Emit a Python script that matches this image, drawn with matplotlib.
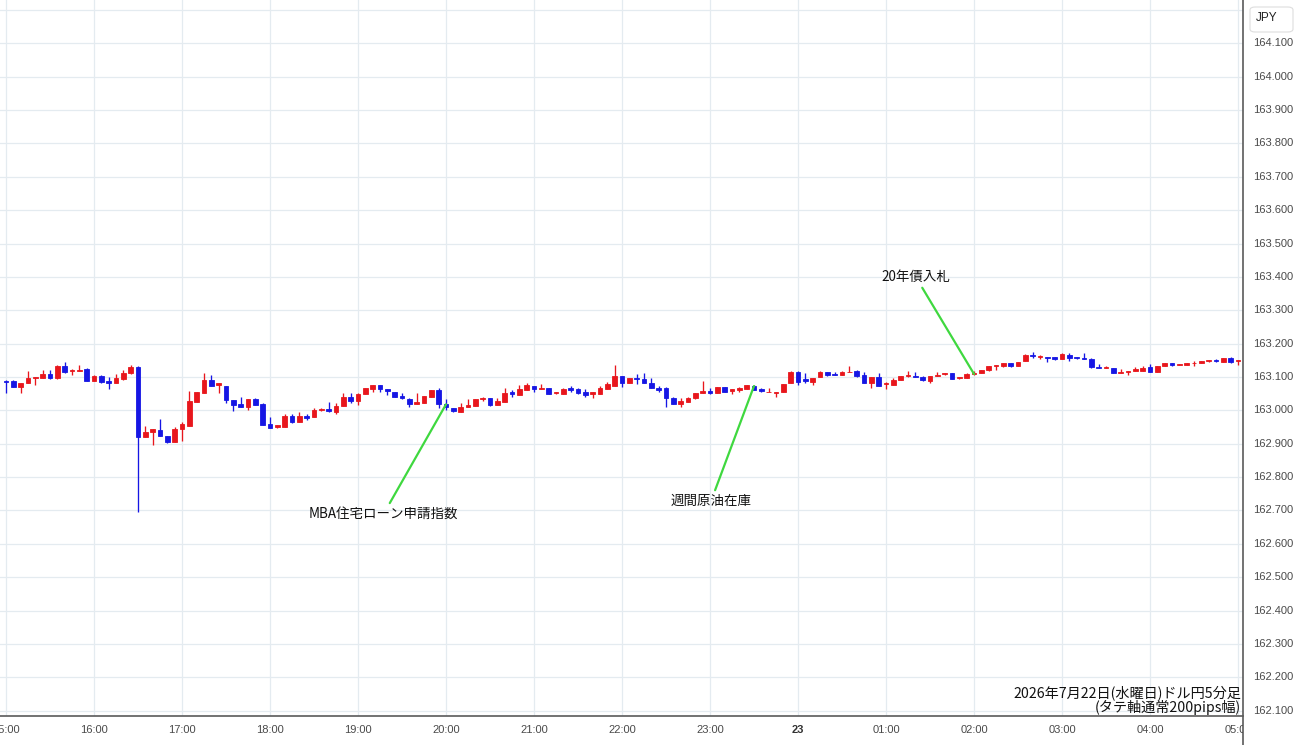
import matplotlib
matplotlib.use("Agg")
import matplotlib.pyplot as plt
from matplotlib.patches import FancyBboxPatch
from matplotlib.transforms import Bbox, TransformedBbox, blended_transform_factory
from matplotlib.lines import Line2D

plt.rcParams['font.family'] = ['Noto Sans CJK JP', 'DejaVu Sans']

# ---------------- data (USD/JPY 5-minute candles, 15:00 -> 05:00) ----------------
opens = [163.089, 163.088, 163.071, 163.081, 163.097, 163.097, 163.109, 163.097, 163.133, 163.117,
         163.119, 163.123, 163.089, 163.103, 163.088, 163.081, 163.094, 163.111, 163.131, 162.919,
         162.935, 162.941, 162.924, 162.906, 162.943, 162.953, 163.026, 163.053, 163.091, 163.077,
         163.074, 163.031, 163.018, 163.011, 163.033, 163.018, 162.959, 162.951, 162.951, 162.983,
         162.966, 162.983, 162.979, 163.001, 163.004, 162.996, 163.014, 163.039, 163.029, 163.048,
         163.063, 163.076, 163.063, 163.056, 163.043, 163.034, 163.019, 163.023, 163.041, 163.061,
         163.018, 163.008, 162.996, 163.011, 163.013, 163.033, 163.038, 163.016, 163.024, 163.054,
         163.046, 163.061, 163.074, 163.064, 163.066, 163.051, 163.049, 163.066, 163.064, 163.054,
         163.048, 163.049, 163.064, 163.074, 163.104, 163.081, 163.096, 163.094, 163.081, 163.068,
         163.066, 163.038, 163.018, 163.026, 163.036, 163.051, 163.058, 163.051, 163.071, 163.058,
         163.062, 163.064, 163.073, 163.064, 163.054, 163.053, 163.054, 163.081, 163.116, 163.093,
         163.086, 163.099, 163.116, 163.108, 163.106, 163.114, 163.119, 163.106, 163.083, 163.099,
         163.079, 163.076, 163.091, 163.103, 163.103, 163.099, 163.089, 163.103, 163.108, 163.111,
         163.096, 163.096, 163.109, 163.111, 163.121, 163.133, 163.133, 163.143, 163.133, 163.147,
         163.166, 163.161, 163.161, 163.159, 163.153, 163.166, 163.159, 163.158, 163.153, 163.131,
         163.127, 163.126, 163.113, 163.115, 163.117, 163.119, 163.129, 163.116, 163.133, 163.141,
         163.136, 163.136, 163.141, 163.143, 163.149, 163.151, 163.146, 163.156, 163.149]
highs = [163.091, 163.090, 163.083, 163.119, 163.101, 163.121, 163.121, 163.137, 163.144, 163.123,
         163.137, 163.127, 163.105, 163.107, 163.101, 163.109, 163.121, 163.136, 163.133, 162.954,
         162.943, 162.973, 162.924, 162.949, 162.966, 163.057, 163.056, 163.111, 163.106, 163.081,
         163.074, 163.031, 163.039, 163.033, 163.036, 163.021, 162.981, 162.956, 162.988, 162.989,
         162.996, 162.989, 163.006, 163.006, 163.026, 163.021, 163.051, 163.051, 163.051, 163.066,
         163.076, 163.076, 163.063, 163.056, 163.053, 163.036, 163.051, 163.043, 163.061, 163.066,
         163.033, 163.008, 163.021, 163.034, 163.034, 163.041, 163.038, 163.036, 163.066, 163.061,
         163.076, 163.081, 163.074, 163.078, 163.066, 163.054, 163.066, 163.074, 163.066, 163.064,
         163.054, 163.074, 163.084, 163.136, 163.104, 163.096, 163.108, 163.111, 163.096, 163.074,
         163.071, 163.041, 163.036, 163.041, 163.051, 163.088, 163.066, 163.071, 163.071, 163.064,
         163.071, 163.076, 163.076, 163.068, 163.066, 163.056, 163.080, 163.119, 163.119, 163.111,
         163.098, 163.119, 163.116, 163.116, 163.119, 163.134, 163.121, 163.116, 163.099, 163.111,
         163.086, 163.096, 163.104, 163.119, 163.116, 163.103, 163.104, 163.116, 163.111, 163.113,
         163.101, 163.111, 163.119, 163.121, 163.133, 163.136, 163.143, 163.143, 163.146, 163.168,
         163.176, 163.166, 163.161, 163.161, 163.171, 163.173, 163.159, 163.171, 163.156, 163.139,
         163.133, 163.126, 163.123, 163.119, 163.129, 163.133, 163.139, 163.133, 163.143, 163.143,
         163.138, 163.143, 163.149, 163.149, 163.151, 163.154, 163.156, 163.159, 163.151]
lows = [163.053, 163.069, 163.053, 163.081, 163.076, 163.097, 163.093, 163.095, 163.113, 163.106,
        163.117, 163.089, 163.089, 163.083, 163.065, 163.081, 163.091, 163.108, 162.694, 162.919,
        162.896, 162.923, 162.901, 162.906, 162.909, 162.953, 163.026, 163.053, 163.074, 163.053,
        163.021, 162.999, 163.009, 163.001, 163.016, 162.956, 162.946, 162.946, 162.951, 162.961,
        162.966, 162.971, 162.979, 162.999, 162.996, 162.989, 163.014, 163.023, 163.016, 163.048,
        163.056, 163.056, 163.046, 163.039, 163.033, 163.011, 163.019, 163.023, 163.041, 163.006,
        163.001, 162.996, 162.996, 163.011, 163.013, 163.029, 163.013, 163.016, 163.024, 163.041,
        163.046, 163.061, 163.054, 163.064, 163.049, 163.048, 163.049, 163.056, 163.049, 163.041,
        163.038, 163.049, 163.064, 163.074, 163.071, 163.081, 163.078, 163.081, 163.066, 163.056,
        163.011, 163.018, 163.011, 163.026, 163.034, 163.051, 163.048, 163.051, 163.054, 163.048,
        163.056, 163.064, 163.061, 163.054, 163.054, 163.041, 163.054, 163.081, 163.076, 163.081,
        163.076, 163.099, 163.104, 163.105, 163.106, 163.114, 163.101, 163.081, 163.068, 163.074,
        163.063, 163.076, 163.091, 163.099, 163.099, 163.089, 163.081, 163.103, 163.106, 163.094,
        163.093, 163.096, 163.106, 163.111, 163.119, 163.121, 163.131, 163.131, 163.133, 163.147,
        163.156, 163.153, 163.146, 163.151, 163.153, 163.149, 163.153, 163.155, 163.126, 163.126,
        163.127, 163.113, 163.113, 163.106, 163.117, 163.119, 163.116, 163.116, 163.133, 163.133,
        163.136, 163.136, 163.133, 163.143, 163.146, 163.146, 163.146, 163.143, 163.136]
closes = [163.085, 163.071, 163.083, 163.097, 163.101, 163.109, 163.097, 163.133, 163.116, 163.120,
          163.121, 163.089, 163.103, 163.086, 163.081, 163.096, 163.113, 163.131, 162.919, 162.936,
          162.943, 162.923, 162.906, 162.944, 162.959, 163.029, 163.054, 163.091, 163.074, 163.081,
          163.031, 163.016, 163.009, 163.033, 163.016, 162.956, 162.946, 162.956, 162.984, 162.966,
          162.983, 162.978, 163.001, 163.004, 162.999, 163.013, 163.039, 163.029, 163.049, 163.066,
          163.076, 163.063, 163.058, 163.041, 163.036, 163.019, 163.026, 163.043, 163.061, 163.018,
          163.011, 162.999, 163.011, 163.016, 163.034, 163.036, 163.016, 163.029, 163.051, 163.048,
          163.063, 163.075, 163.064, 163.068, 163.049, 163.054, 163.064, 163.061, 163.051, 163.046,
          163.054, 163.066, 163.078, 163.104, 163.081, 163.096, 163.093, 163.081, 163.066, 163.061,
          163.036, 163.018, 163.028, 163.038, 163.051, 163.058, 163.051, 163.071, 163.056, 163.064,
          163.066, 163.076, 163.061, 163.058, 163.056, 163.056, 163.080, 163.116, 163.086, 163.089,
          163.098, 163.116, 163.106, 163.105, 163.116, 163.116, 163.104, 163.081, 163.099, 163.074,
          163.083, 163.091, 163.104, 163.106, 163.099, 163.091, 163.104, 163.106, 163.111, 163.094,
          163.101, 163.109, 163.113, 163.121, 163.133, 163.136, 163.143, 163.133, 163.146, 163.165,
          163.163, 163.163, 163.157, 163.153, 163.168, 163.156, 163.156, 163.155, 163.129, 163.128,
          163.129, 163.113, 163.116, 163.119, 163.123, 163.126, 163.116, 163.133, 163.141, 163.136,
          163.138, 163.141, 163.143, 163.149, 163.151, 163.149, 163.156, 163.146, 163.151]

time_labels = ["15:00", "16:00", "17:00", "18:00", "19:00", "20:00", "21:00", "22:00",
               "23:00", "23", "01:00", "02:00", "03:00", "04:00", "05:00"]
candles_per_hour = 12
price_ticks = [162.1, 162.2, 162.3, 162.4, 162.5, 162.6, 162.7, 162.8, 162.9, 163.0, 163.1,
               163.2, 163.3, 163.4, 163.5, 163.6, 163.7, 163.8, 163.9, 164.0, 164.1, 164.2]
price_labels = ["162.100", "162.200", "162.300", "162.400", "162.500", "162.600", "162.700",
                "162.800", "162.900", "163.000", "163.100", "163.200", "163.300", "163.400",
                "163.500", "163.600", "163.700", "163.800", "163.900", "164.000", "164.100", ""]
event_names = ["MBA住宅ローン申請指数", "週間原油在庫", "20年債入札"]
event_candles = [60, 102, 132]
event_offsets_pt = [(-45, -79), (-31, -83), (-42, 70)]

title_lines = "2026年7月22日(水曜日)ドル円5分足\n(タテ軸通常200pips幅)"

UP = '#e8161c'
DOWN = '#1616e4'
GRID = '#e4ebf0'
AXIS = '#5a5a5a'
GREEN = '#3fd83f'

# ---------------- figure ----------------
W, H = 1300, 745
fig = plt.figure(figsize=(W / 100, H / 100), dpi=100)
ax_right_px = 1243
ax_bottom_px = 716
ax = fig.add_axes([0, (H - ax_bottom_px) / H, ax_right_px / W, ax_bottom_px / H])

x_first_px = 6.0
px_per_candle = 88.0 / candles_per_hour
ax.set_xlim(-x_first_px / px_per_candle, (ax_right_px - x_first_px) / px_per_candle)
ax.set_ylim(162.0841, 164.2298)

# grid
hour_pos = [k * candles_per_hour for k in range(len(time_labels))]
for xp in hour_pos:
    ax.axvline(xp, color=GRID, lw=0.9, zorder=0)
for yp in price_ticks:
    ax.axhline(yp, color=GRID, lw=0.9, zorder=0)

# candles
n = len(opens)
idx = list(range(n))
colors = [UP if c >= o else DOWN for o, c in zip(opens, closes)]
ax.vlines(idx, lows, highs, colors=colors, lw=0.95, zorder=2)
bottoms = [min(o, c) for o, c in zip(opens, closes)]
heights = [abs(c - o) for o, c in zip(opens, closes)]
ax.bar(idx, heights, width=0.62, bottom=bottoms, color=colors, edgecolor=colors,
       linewidth=0.6, zorder=3)

# event annotations
for name, ci, off in zip(event_names, event_candles, event_offsets_pt):
    ax.annotate(name, xy=(ci, opens[ci]), xytext=off, textcoords='offset points',
                ha='center', va='center', fontsize=9.7, color='#111111',
                arrowprops=dict(arrowstyle='-', color=GREEN, lw=1.6,
                                shrinkA=1, shrinkB=0), zorder=5)

# spines
for s in ['top', 'left', 'right']:
    ax.spines[s].set_visible(False)
ax.spines['bottom'].set_color(AXIS)
ax.spines['bottom'].set_linewidth(1.2)
ax.set_xticks([])
ax.set_yticks([])

# right price axis line through full height
fig.add_artist(Line2D([ax_right_px / W, ax_right_px / W], [0, 1], transform=fig.transFigure,
                      color=AXIS, lw=1.2))

# price labels
ytrans = blended_transform_factory(fig.transFigure, ax.transData)
for yp, lab in zip(price_ticks, price_labels):
    if lab:
        fig.text(1253 / W, yp, lab, transform=ytrans, ha='left', va='center',
                 fontsize=8, color='#4a4a4a', family=['Liberation Sans', 'DejaVu Sans'])

# time labels (clipped at the price axis, like the reference)
clip = TransformedBbox(Bbox([[0, 0], [ax_right_px / W, 1]]), fig.transFigure)
xtrans = blended_transform_factory(ax.transData, fig.transFigure)
for xp, lab in zip(hour_pos, time_labels):
    bold = lab == "23"
    t = fig.text(xp, 1 - 730 / H, lab, transform=xtrans, ha='center', va='center',
                 fontsize=8, color='#333333' if bold else '#4a4a4a',
                 fontweight='bold' if bold else 'normal',
                 family=['Liberation Sans', 'DejaVu Sans'])
    t.set_clip_box(clip)
    t.set_clip_on(True)

# currency box
box = FancyBboxPatch((1250 / W, 1 - 32 / H), 43 / W, 25 / H,
                     boxstyle='round,pad=0,rounding_size=0.004',
                     transform=fig.transFigure, facecolor='white',
                     edgecolor='#dddddd', lw=0.8)
fig.add_artist(box)
fig.text(1256 / W, 1 - 18 / H, "JPY", ha='left', va='center', fontsize=8.5,
         color='#222222', family=['Liberation Sans', 'DejaVu Sans'])

# chart caption
ax.text(1 - 2 / ax_right_px, (H - 700 - (H - ax_bottom_px)) / ax_bottom_px, title_lines,
        transform=ax.transAxes, ha='right', va='center', fontsize=10.2, color='#111111',
        linespacing=0.95, zorder=6)

fig.savefig('out.png', dpi=100, facecolor='white')
